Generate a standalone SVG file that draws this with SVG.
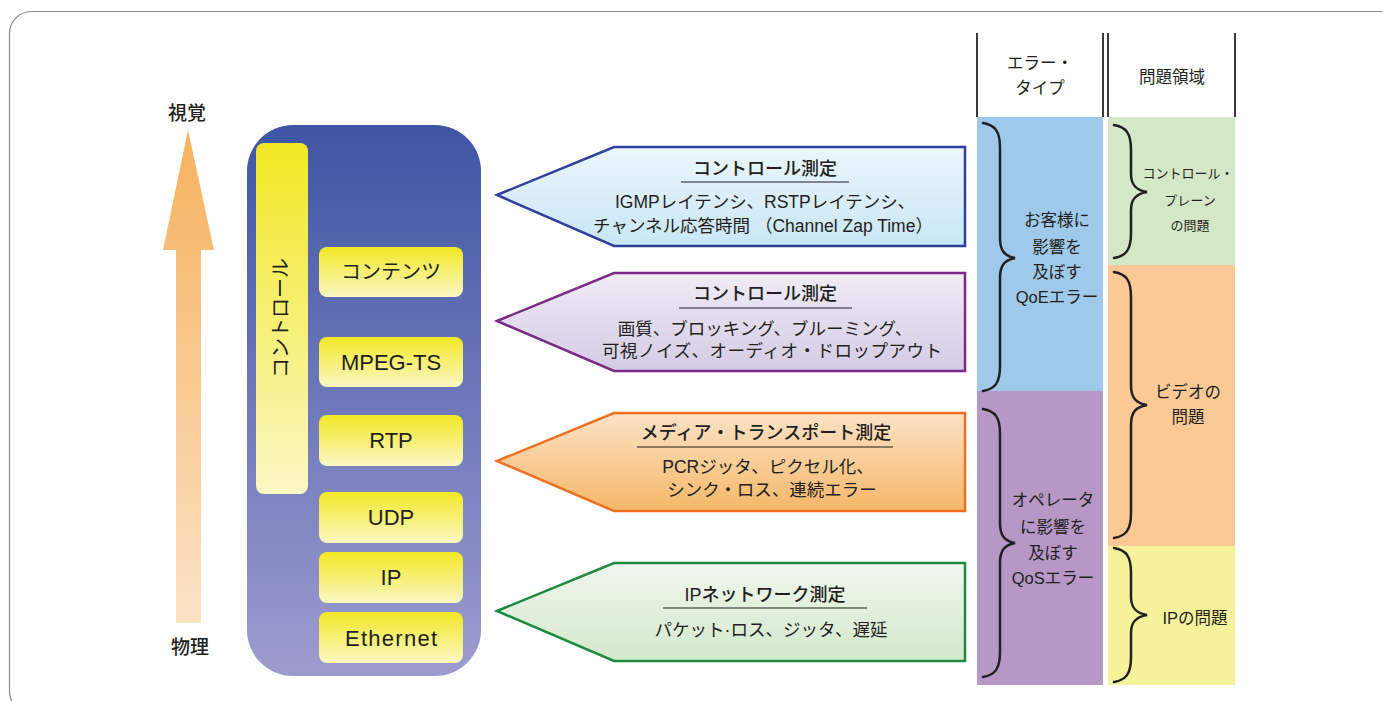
<svg xmlns="http://www.w3.org/2000/svg" width="1382" height="701" viewBox="0 0 1382 701">
  <defs>
    <linearGradient id="gArrow" x1="0" y1="0" x2="0" y2="1">
      <stop offset="0" stop-color="#f5b25e"/>
      <stop offset="1" stop-color="#fce2c4"/>
    </linearGradient>
    <linearGradient id="gStack" x1="0" y1="0" x2="0" y2="1">
      <stop offset="0" stop-color="#3f55a4"/>
      <stop offset="1" stop-color="#9d9cce"/>
    </linearGradient>
    <linearGradient id="gYellow" x1="0" y1="0" x2="0" y2="1">
      <stop offset="0" stop-color="#f2e824"/>
      <stop offset="1" stop-color="#faf7c4"/>
    </linearGradient>
    <linearGradient id="gBlue" x1="0" y1="0" x2="0" y2="1">
      <stop offset="0" stop-color="#ecf6fc"/>
      <stop offset="1" stop-color="#c9e6f6"/>
    </linearGradient>
    <linearGradient id="gPurple" x1="0" y1="0" x2="0" y2="1">
      <stop offset="0" stop-color="#efecf5"/>
      <stop offset="1" stop-color="#d3cbe5"/>
    </linearGradient>
    <linearGradient id="gOrange" x1="0" y1="0" x2="0" y2="1">
      <stop offset="0" stop-color="#fce2c6"/>
      <stop offset="1" stop-color="#f5b768"/>
    </linearGradient>
    <linearGradient id="gGreen" x1="0" y1="0" x2="0" y2="1">
      <stop offset="0" stop-color="#f0f7ee"/>
      <stop offset="1" stop-color="#d3e8cb"/>
    </linearGradient>
  </defs>
  <style>
    text { font-family: "Liberation Sans", "Noto Sans CJK JP", sans-serif; fill: #231f20; text-anchor: middle; dominant-baseline: central; }
    .axis { font-size: 19px; font-weight: 500; }
    .layer { font-size: 22px; }
    .layerjp { font-size: 20px; }
    .title { font-size: 18px; font-weight: 500; }
    .body { font-size: 17.5px; }
    .col { font-size: 16.5px; }
    .small { font-size: 13px; }
    .uline { stroke: #231f20; stroke-width: 1.2; }
    .brace { fill: none; stroke: #231f20; stroke-width: 2.5; stroke-linecap: round; }
    .hdr { stroke: #3a3a3a; stroke-width: 2; }
    .pent { stroke-width: 2.5; }
  </style>

  <!-- outer frame -->
  <rect x="9.5" y="11.5" width="1392" height="702" rx="22" fill="#ffffff" stroke="#8a8a8a" stroke-width="1.2"/>

  <!-- vertical axis arrow: physical to visual -->
  <g id="axis">
    <path d="M188,130 L214,250 L201,250 L201,623 L176,623 L176,250 L163,250 Z" fill="url(#gArrow)"/>
    <text class="axis" x="187" y="113">視覚</text>
    <text class="axis" x="190" y="647">物理</text>
  </g>

  <!-- protocol stack -->
  <g id="stack">
    <rect x="247" y="125" width="234" height="551" rx="46" fill="url(#gStack)"/>
  </g>
  <g id="control-bar">
    <rect x="256" y="143" width="52" height="351" rx="8" fill="url(#gYellow)"/>
    <text class="layerjp" font-size="19" transform="translate(281,318) rotate(-90)" x="0" y="0">コントロール</text>
  </g>
  <g id="layer-contents">
    <rect x="319" y="247" width="144" height="50" rx="8" fill="url(#gYellow)"/>
    <text class="layerjp" x="391" y="272">コンテンツ</text>
  </g>
  <g id="layer-mpegts">
    <rect x="319" y="337" width="144" height="50" rx="8" fill="url(#gYellow)"/>
    <text class="layer" x="391" y="362">MPEG-TS</text>
  </g>
  <g id="layer-rtp">
    <rect x="319" y="415" width="144" height="51" rx="8" fill="url(#gYellow)"/>
    <text class="layer" x="391" y="440">RTP</text>
  </g>
  <g id="layer-udp">
    <rect x="319" y="492" width="144" height="51" rx="8" fill="url(#gYellow)"/>
    <text class="layer" x="391" y="517">UDP</text>
  </g>
  <g id="layer-ip">
    <rect x="319" y="552" width="144" height="51" rx="8" fill="url(#gYellow)"/>
    <text class="layer" x="391" y="577">IP</text>
  </g>
  <g id="layer-ethernet">
    <rect x="319" y="612" width="144" height="51" rx="8" fill="url(#gYellow)"/>
    <text class="layer" x="391" y="638" textLength="92">Ethernet</text>
  </g>

  <!-- measurement callouts -->
  <g id="meas-control-1">
    <path class="pent" d="M497,195 L614,147 L965,147 L965,246 L614,246 Z" fill="url(#gBlue)" stroke="#2e3f9e"/>
    <text class="title" x="765" y="169">コントロール測定</text>
    <line class="uline" x1="681" y1="182" x2="849" y2="182"/>
    <text class="body" x="765" y="202">IGMPレイテンシ、RSTPレイテンシ、</text>
    <text class="body" x="763" y="226">チャンネル応答時間 （Channel Zap Time）</text>
  </g>
  <g id="meas-control-2">
    <path class="pent" d="M497,321 L614,273 L965,273 L965,371 L614,371 Z" fill="url(#gPurple)" stroke="#7b2a85"/>
    <text class="title" x="765" y="294">コントロール測定</text>
    <line class="uline" x1="679" y1="308" x2="852" y2="308"/>
    <text class="body" x="765" y="329">画質、ブロッキング、ブルーミング、</text>
    <text class="body" x="772" y="351" textLength="340">可視ノイズ、オーディオ・ドロップアウト</text>
  </g>
  <g id="meas-transport">
    <path class="pent" d="M497,461 L614,413 L965,413 L965,511 L614,511 Z" fill="url(#gOrange)" stroke="#f07022"/>
    <text class="title" x="766" y="433">メディア・トランスポート測定</text>
    <line class="uline" x1="637" y1="447" x2="893" y2="447"/>
    <text class="body" x="768" y="467">PCRジッタ、ピクセル化、</text>
    <text class="body" x="772" y="490">シンク・ロス、連続エラー</text>
  </g>
  <g id="meas-ipnet">
    <path class="pent" d="M497,611 L614,563 L965,563 L965,661 L614,661 Z" fill="url(#gGreen)" stroke="#1e8a40"/>
    <text class="title" x="765" y="595">IPネットワーク測定</text>
    <line class="uline" x1="663" y1="608" x2="867" y2="608"/>
    <text class="body" x="771" y="630">パケット·ロス、ジッタ、遅延</text>
  </g>

  <!-- column headers -->
  <g id="header-error-type">
    <line class="hdr" x1="977" y1="33" x2="977" y2="117"/>
    <line class="hdr" x1="1103" y1="33" x2="1103" y2="117"/>
    <text class="col" x="1040" y="63">エラー・</text>
    <text class="col" x="1040" y="88">タイプ</text>
  </g>
  <g id="header-problem-area">
    <line class="hdr" x1="1108" y1="33" x2="1108" y2="117"/>
    <line class="hdr" x1="1235" y1="33" x2="1235" y2="117"/>
    <text class="col" x="1172" y="77">問題領域</text>
  </g>

  <!-- error types -->
  <g id="err-qoe">
    <rect x="977" y="117" width="126" height="274" fill="#9ec9ea"/>
    <text class="col" x="1057" y="220">お客様に</text>
    <text class="col" x="1057" y="247">影響を</text>
    <text class="col" x="1057" y="272">及ぼす</text>
    <text class="col" x="1057" y="297">QoEエラー</text>
  </g>
  <g id="err-qos">
    <rect x="977" y="391" width="126" height="294" fill="#b697c6"/>
    <text class="col" x="1053" y="500">オペレータ</text>
    <text class="col" x="1053" y="527">に影響を</text>
    <text class="col" x="1053" y="553">及ぼす</text>
    <text class="col" x="1053" y="578">QoSエラー</text>
  </g>

  <!-- problem areas -->
  <g id="area-control-plane">
    <rect x="1108" y="117" width="127" height="148" fill="#d4e7c6"/>
    <text class="small" x="1188" y="173">コントロール・</text>
    <text class="small" x="1190" y="200">プレーン</text>
    <text class="small" x="1190" y="225">の問題</text>
  </g>
  <g id="area-video">
    <rect x="1108" y="265" width="127" height="281" fill="#fbc996"/>
    <text class="col" x="1188" y="392">ビデオの</text>
    <text class="col" x="1188" y="417">問題</text>
  </g>
  <g id="area-ip">
    <rect x="1108" y="546" width="127" height="139" fill="#f6f29c"/>
    <text class="col" x="1195" y="618">IPの問題</text>
  </g>

  <!-- grouping braces -->
  <g id="braces">
    <path class="brace" d="M983,123 C995,125 1000,131 1000,148 L1000,238 C1000,250 1004,256 1015,258 C1004,260 1000,266 1000,278 L1000,366 C1000,383 995,389 983,391"/>
    <path class="brace" d="M983,409 C995,411 1000,417 1000,434 L1000,523 C1000,535 1004,541 1015,543 C1004,545 1000,551 1000,563 L1000,652 C1000,669 995,675 983,677"/>
    <path class="brace" d="M1114,125 C1126,127 1131,133 1131,150 L1131,174 C1131,184 1135,190 1147,192 C1135,194 1131,200 1131,210 L1131,233 C1131,250 1126,256 1114,258"/>
    <path class="brace" d="M1114,272 C1126,274 1131,280 1131,297 L1131,385 C1131,397 1135,403 1147,405 C1135,407 1131,413 1131,425 L1131,513 C1131,530 1126,536 1114,538"/>
    <path class="brace" d="M1114,548 C1126,550 1131,556 1131,573 L1131,597 C1131,607 1135,613 1147,615 C1135,617 1131,623 1131,633 L1131,657 C1131,674 1126,680 1114,682"/>
  </g>
</svg>
